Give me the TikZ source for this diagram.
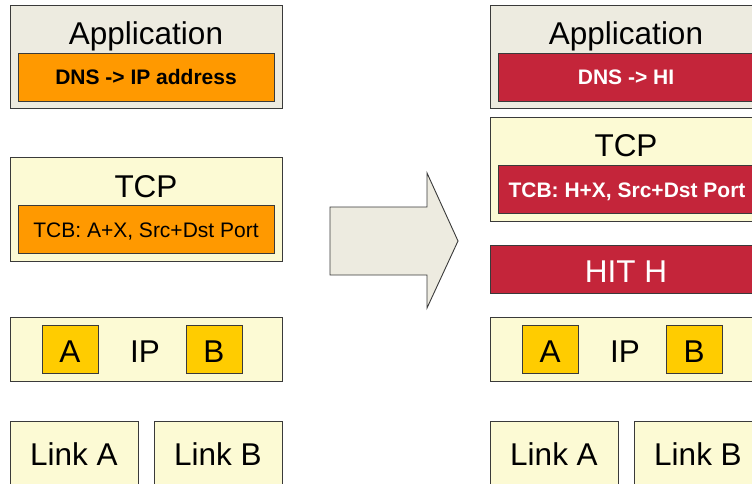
\documentclass[tikz,border=0pt]{standalone}
\usepackage{fontspec}
\setmainfont{Liberation Sans}
\definecolor{appbg}{HTML}{EDEBE0}
\definecolor{layerbg}{HTML}{FCFAD4}
\definecolor{orng}{HTML}{FF9900}
\definecolor{ylw}{HTML}{FFCC00}
\definecolor{hred}{HTML}{C4253A}
\definecolor{edge}{HTML}{3A3A3A}
\tikzset{
  box/.style={draw=edge, line width=0.9pt, inner sep=0pt, outer sep=0pt, rectangle},
  big/.style={anchor=base, inner sep=0pt, font=\fontsize{31.5}{36}\selectfont},
  small/.style={anchor=base, inner sep=0pt, font=\fontsize{21}{24}\selectfont},
  smallbold/.style={anchor=base, inner sep=0pt, font=\fontsize{21}{24}\selectfont\bfseries},
}
\begin{document}
\begin{tikzpicture}[x=1pt,y=-1pt]
\useasboundingbox (0,0) rectangle (752,484);
\clip (0,0) rectangle (752,484);
% ---------- left stack ----------
\node[box, fill=appbg, minimum width=272, minimum height=103] (lapp) at (146,56.5) {};
\node[big] (lappt) at (146,45) {Application};
\node[box, fill=orng, minimum width=256, minimum height=48] (ldns) at (146,77) {};
\node[smallbold] (ldnst) at (146,85) {DNS -> IP address};
\node[box, fill=layerbg, minimum width=272, minimum height=104] (ltcp) at (146,209) {};
\node[big] (ltcpt) at (146,197) {TCP};
\node[box, fill=orng, minimum width=256, minimum height=48] (ltcb) at (146,229) {};
\node[small] (ltcbt) at (146,237) {TCB: A+X, Src+Dst Port};
\node[box, fill=layerbg, minimum width=272, minimum height=64] (lip) at (146,349) {};
\node[box, fill=ylw, minimum width=56, minimum height=48] (lipa) at (70,349) {};
\node[box, fill=ylw, minimum width=56, minimum height=48] (lipb) at (214,349) {};
\node[big] (lipat) at (70,362) {A};
\node[big] (lipt) at (145,362) {IP};
\node[big] (lipbt) at (214,362) {B};
\node[box, fill=layerbg, minimum width=128, minimum height=70] (llka) at (74,456) {};
\node[box, fill=layerbg, minimum width=128, minimum height=70] (llkb) at (218,456) {};
\node[big] (llkat) at (74,465) {Link A};
\node[big] (llkbt) at (218,465) {Link B};
% ---------- arrow ----------
\draw[draw=edge, line width=0.9pt, fill=appbg, line join=miter]
  (330,207) -- (427,207) -- (427,173) -- (458,241) -- (427,308) -- (427,275) -- (330,275) -- cycle;
% ---------- right stack ----------
\node[box, fill=appbg, minimum width=272, minimum height=103] (rapp) at (626,56.5) {};
\node[big] (rappt) at (626,45) {Application};
\node[box, fill=hred, minimum width=256, minimum height=48] (rdns) at (626,77) {};
\node[smallbold, text=white] (rdnst) at (626,85) {DNS -> HI};
\node[box, fill=layerbg, minimum width=272, minimum height=104] (rtcp) at (626,169) {};
\node[big] (rtcpt) at (626,157) {TCP};
\node[box, fill=hred, minimum width=256, minimum height=48] (rtcb) at (626,189) {};
\node[smallbold, text=white] (rtcbt) at (627,197) {TCB: H+X, Src+Dst Port};
\node[box, fill=hred, minimum width=272, minimum height=48] (rhit) at (626,269) {};
\node[big, text=white] (rhitt) at (626,282) {HIT H};
\node[box, fill=layerbg, minimum width=272, minimum height=64] (rip) at (626,349) {};
\node[box, fill=ylw, minimum width=56, minimum height=48] (ripa) at (550,349) {};
\node[box, fill=ylw, minimum width=56, minimum height=48] (ripb) at (694,349) {};
\node[big] (ripat) at (550,362) {A};
\node[big] (ript) at (625,362) {IP};
\node[big] (ripbt) at (694,362) {B};
\node[box, fill=layerbg, minimum width=128, minimum height=70] (rlka) at (554,456) {};
\node[box, fill=layerbg, minimum width=128, minimum height=70] (rlkb) at (698,456) {};
\node[big] (rlkat) at (554,465) {Link A};
\node[big] (rlkbt) at (698,465) {Link B};
\end{tikzpicture}
\end{document}
